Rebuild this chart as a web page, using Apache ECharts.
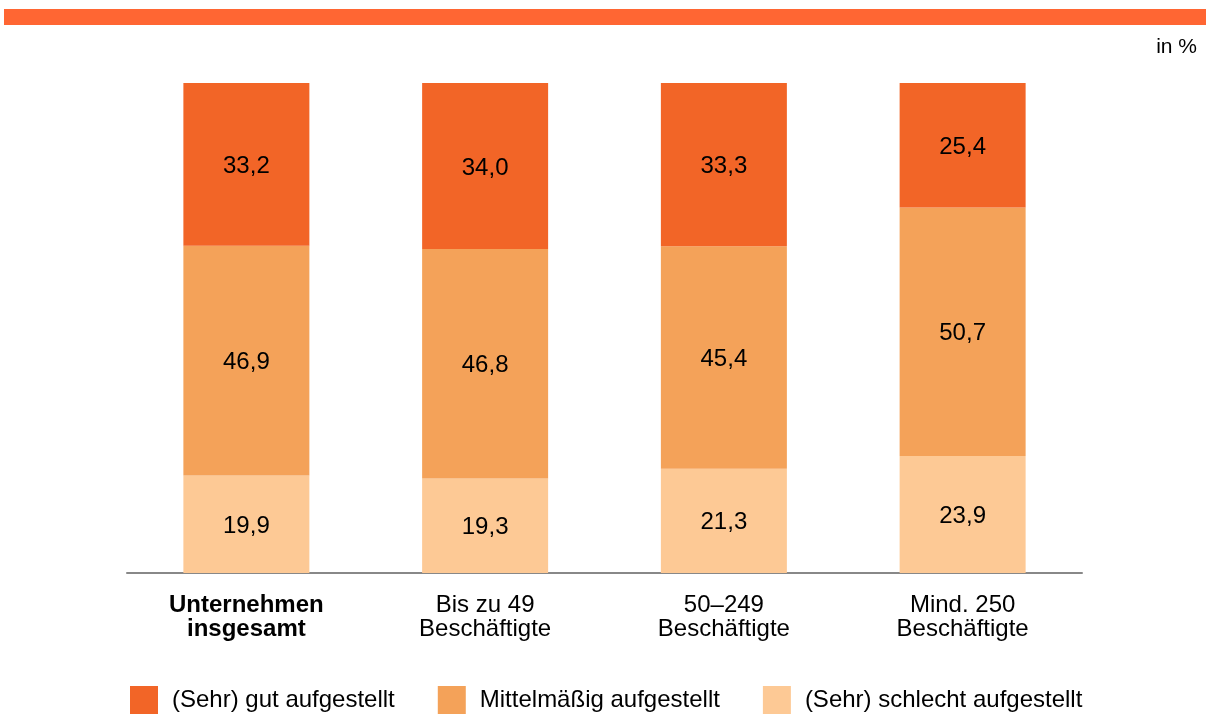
<!DOCTYPE html>
<html>
<head>
<meta charset="utf-8">
<script src="https://cdn.jsdelivr.net/npm/echarts@6/dist/echarts.min.js"></script>
<style>
html,body{margin:0;padding:0;background:#fff;}
#chart{width:1206px;height:718px;}
</style>
</head>
<body>
<div id="chart"></div>
<script>
var categories = ['Unternehmen\ninsgesamt', 'Bis zu 49\nBeschäftigte', '50–249\nBeschäftigte', 'Mind. 250\nBeschäftigte'];
var seriesNames = ['(Sehr) gut aufgestellt', 'Mittelmäßig aufgestellt', '(Sehr) schlecht aufgestellt'];
var schlecht = [19.9, 19.3, 21.3, 23.9];
var mittel = [46.9, 46.8, 45.4, 50.7];
var gut = [33.2, 34.0, 33.3, 25.4];
var colors = ['#F26527', '#F4A259', '#FDC995'];

var chart = echarts.init(document.getElementById('chart'));
var font = '"Liberation Sans", Arial, sans-serif';
var FS = 24;
function lbl() {
  return {
    show: true, position: 'inside', color: '#000', fontSize: FS, fontFamily: font, offset: [0, 2],
    formatter: function (p) { return p.value.toFixed(1).replace('.', ','); }
  };
}
chart.setOption({
  animation: false,
  graphic: [
    { type: 'rect', shape: { x: 4, y: 9, width: 1202, height: 16 }, style: { fill: '#FF6633' } },
    { type: 'text', right: 9, top: 37, style: { text: 'in %', font: '21px ' + font, fill: '#000' } }
  ],
  grid: { left: 127, right: 124, top: 83, bottom: 145 },
  legend: {
    left: 130, top: 686, padding: 0, itemWidth: 28, itemHeight: 28, itemGap: 43,
    icon: 'rect',
    data: seriesNames,
    textStyle: { fontSize: FS, fontFamily: font, color: '#000', padding: [0, 0, 0, 9] }
  },
  xAxis: {
    type: 'category', data: categories,
    axisLine: { lineStyle: { color: '#888', width: 2 } },
    axisTick: { show: false },
    axisLabel: {
      margin: 20, fontSize: FS, lineHeight: 24, color: '#000', fontFamily: font,
      formatter: function (v, i) {
        if (i === 0) return v.split('\n').map(function (s) { return '{b|' + s + '}'; }).join('\n');
        return v;
      },
      rich: { b: { fontWeight: 'bold', fontSize: FS, lineHeight: 24, fontFamily: font, color: '#000' } }
    }
  },
  yAxis: { type: 'value', min: 0, max: 100, show: false, splitLine: { show: false } },
  series: [
    { name: seriesNames[2], type: 'bar', stack: 't', data: schlecht, barWidth: 126, itemStyle: { color: colors[2] }, label: lbl() },
    { name: seriesNames[1], type: 'bar', stack: 't', data: mittel, itemStyle: { color: colors[1] }, label: lbl() },
    { name: seriesNames[0], type: 'bar', stack: 't', data: gut, itemStyle: { color: colors[0] }, label: lbl() }
  ]
});
</script>
</body>
</html>
